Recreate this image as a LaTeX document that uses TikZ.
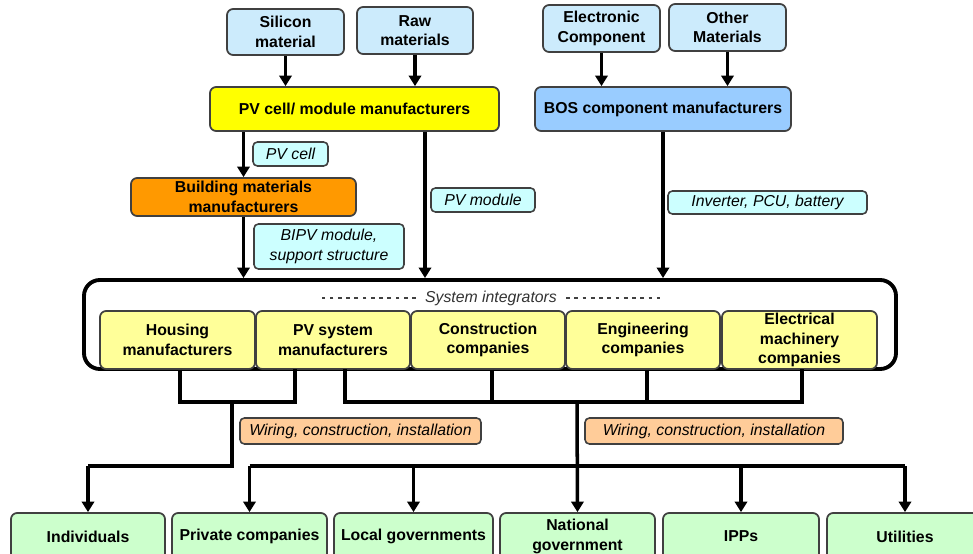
\documentclass[tikz,border=0pt]{standalone}
\usepackage{fontspec}
\setmainfont{Liberation Sans}
\usetikzlibrary{arrows.meta}
\definecolor{matblue}{HTML}{CCEBFC}
\definecolor{pvyellow}{HTML}{FFFF00}
\definecolor{bosblue}{HTML}{99CCFF}
\definecolor{labcyan}{HTML}{CCFFFF}
\definecolor{bldorange}{HTML}{FF9900}
\definecolor{siyellow}{HTML}{FFFF99}
\definecolor{wirepeach}{HTML}{FFCC99}
\definecolor{custgreen}{HTML}{CCFFCC}
\newcommand\rbox[7]{\node[#1, minimum width={(#5-#3)*0.02cm}, minimum height={(#6-#4)*0.02cm}] (#2) at ({(#3+#5)/2},{(#4+#6)/2}) {#7};}
\begin{document}
\begin{tikzpicture}[x=0.02cm,y=-0.02cm,
  box/.style={draw=black!75, line width=1pt, rounded corners=3.5pt, inner sep=0pt, align=center,
    font=\fontsize{9}{11.2}\selectfont\bfseries},
  lab/.style={draw=black!75, line width=0.9pt, rounded corners=2.5pt, inner sep=0pt, align=center,
    font=\fontsize{9}{11.2}\selectfont\itshape},
  frame/.style={draw=black, line width=2.2pt, rounded corners=9pt, inner sep=0pt},
  arr/.style={line width=2pt, -{Triangle[width=7pt,length=6pt]}},
  con/.style={line width=2.4pt}]
\useasboundingbox (0,0) rectangle (973,554);
\fill[white] (0,0) rectangle (973,554);
\clip (0,0) rectangle (973,554);

% top materials
\rbox{box, fill=matblue}{sil}{227}{9}{344}{55}{Silicon\\material}
\rbox{box, fill=matblue}{raw}{357}{7}{473}{54}{Raw\\materials}
\rbox{box, fill=matblue}{ele}{543}{5}{660}{52}{Electronic\\Component}
\rbox{box, fill=matblue}{oth}{669}{4}{786}{51}{Other\\Materials}

% manufacturers
\rbox{box, fill=pvyellow}{pvm}{210}{87}{499}{131}{PV cell/ module manufacturers}
\rbox{box, fill=bosblue}{bos}{535}{87}{791}{131}{BOS component manufacturers}
\rbox{box, fill=bldorange}{bmm}{131}{178}{356}{216}{Building materials\\manufacturers}

% system integrators frame
\rbox{frame}{si}{84}{280}{896}{369}{}
\node[font=\fontsize{9}{11.2}\selectfont\itshape, text=black!80, inner sep=1pt] (sit) at (491,298) {System integrators};
\draw[black!75, line width=0.8pt, dash pattern=on 2.2pt off 2.5pt] ([xshift=-4pt]sit.west) -- ++(-94,0);
\draw[black!75, line width=0.8pt, dash pattern=on 2.2pt off 2.5pt] ([xshift=4pt]sit.east) -- ++(94,0);

\rbox{box, fill=siyellow}{hm}{100}{311}{255}{369}{Housing\\manufacturers}
\rbox{box, fill=siyellow}{pvs}{256}{311}{410}{369}{PV system\\manufacturers}
\rbox{box, fill=siyellow}{cc}{411}{311}{565}{369}{Construction\\companies}
\rbox{box, fill=siyellow}{ec}{566}{311}{720}{369}{Engineering\\companies}
\rbox{box, fill=siyellow}{emc}{722}{311}{877}{369}{Electrical\\machinery\\companies}

% customers
\rbox{box, fill=custgreen}{ind}{11}{513}{165}{560}{Individuals}
\rbox{box, fill=custgreen}{pc}{172}{513}{327}{560}{Private companies}
\rbox{box, fill=custgreen}{lg}{334}{513}{493}{560}{Local governments}
\rbox{box, fill=custgreen}{nat}{500}{513}{655}{560}{National\\government}
\rbox{box, fill=custgreen}{ipp}{663}{513}{819}{560}{IPPs}
\rbox{box, fill=custgreen}{ut}{827}{513}{983}{560}{Utilities}

% flow labels
\rbox{lab, fill=labcyan}{lcell}{253}{142}{328}{166}{PV cell}
\rbox{lab, fill=labcyan}{lmod}{431}{188}{535}{212}{PV module}
\rbox{lab, fill=labcyan}{lbipv}{254}{224}{404}{269}{BIPV module,\\support structure}
\rbox{lab, fill=labcyan}{linv}{668}{191}{867}{214}{Inverter, PCU, battery}
\rbox{lab, fill=wirepeach}{lw1}{240}{418}{481}{444}{Wiring, construction, installation}
\rbox{lab, fill=wirepeach}{lw2}{585}{418}{843}{444}{Wiring, construction, installation}

% arrows into manufacturers
\draw[arr] (sil.south) -- (sil.south |- pvm.north);
\draw[arr] (raw.south) -- (raw.south |- pvm.north);
\draw[arr] (ele.south) -- (ele.south |- bos.north);
\draw[arr] (oth.south) -- (oth.south |- bos.north);

% arrows to integrators
\coordinate (pvx) at (425,0);
\draw[arr] (bmm.north |- pvm.south) -- (bmm.north);
\draw[arr] (bmm.south) -- (bmm.south |- si.north);
\draw[arr] (pvm.south -| pvx) -- (si.north -| pvx);
\draw[arr] (bos.south) -- (bos.south |- si.north);

% lower connectors
\coordinate (pL) at (295,369);
\coordinate (pR) at (345,369);
\coordinate (eR) at (802,369);
\coordinate (hx) at (180,0);
\coordinate (cx) at (492,0);
\coordinate (ex) at (647,0);
\coordinate (j1) at (232,402);
\coordinate (j2) at (577,402);
\coordinate (b1) at (0,466);

\draw[con] (hm.south -| hx) -- (j1 -| hx) -- (j1 -| pL) -- (pL);
\draw[con] (j1) -- (j1 |- b1) -- (b1 -| ind.north);
\draw[arr] (b1 -| ind.north) -- (ind.north);

\draw[con] (pR) -- (j2 -| pR) -- (j2 -| eR) -- (eR);
\draw[con] (cc.south -| cx) -- (j2 -| cx);
\draw[con] (ec.south -| ex) -- (j2 -| ex);
\draw[arr] (j2) -- (nat.north);

\draw[con] (b1 -| pc.north) -- (b1 -| ut.north);
\draw[arr] (b1 -| pc.north) -- (pc.north);
\draw[arr] (b1 -| lg.north) -- (lg.north);
\draw[arr] (b1 -| ipp.north) -- (ipp.north);
\draw[arr] (b1 -| ut.north) -- (ut.north);
\end{tikzpicture}
\end{document}
